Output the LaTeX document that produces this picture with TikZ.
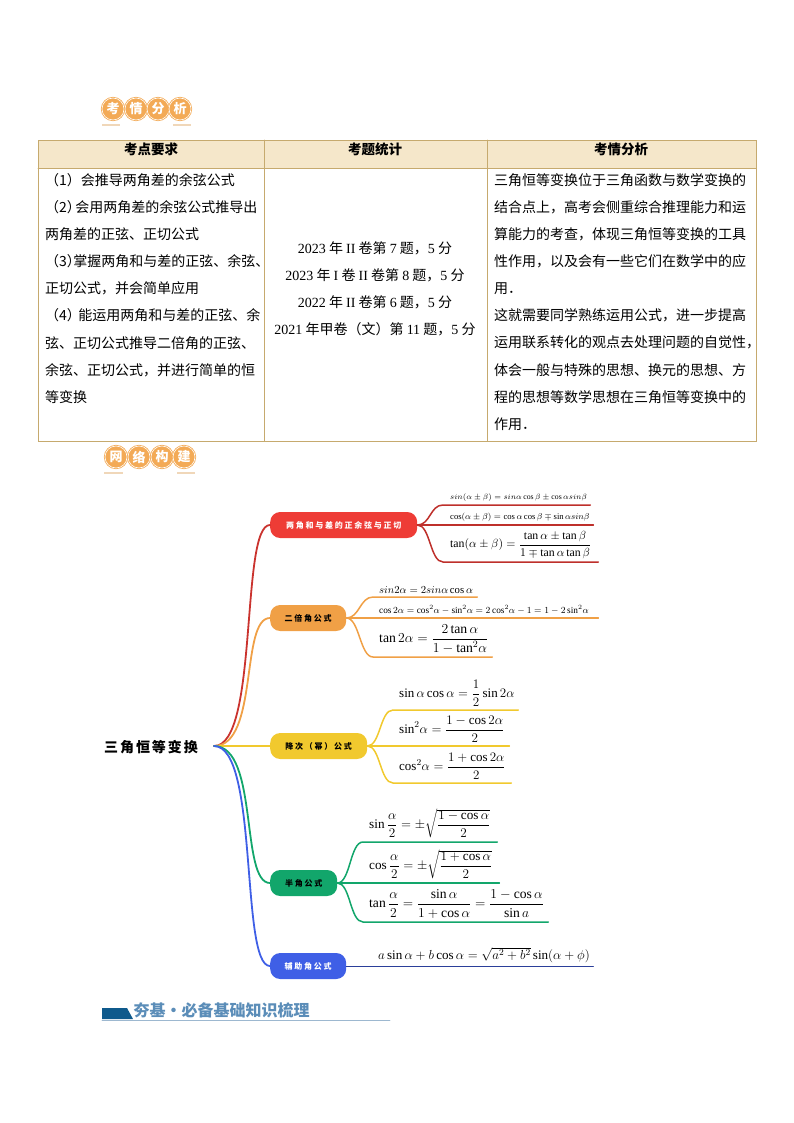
\documentclass[tikz,border=0pt]{standalone}
\usepackage{fix-cm}
\usepackage{amsmath}
\usepackage{fontspec}
\setmainfont{Liberation Serif}
\newfontfamily\cjk{Noto Sans CJK SC}
\newfontfamily\cjkwide[LetterSpace=22]{Noto Sans CJK SC}
\newfontfamily\cjkroot[LetterSpace=14]{Noto Sans CJK SC}
\definecolor{rulegold}{RGB}{198,170,110}
\definecolor{headfill}{RGB}{245,231,202}
\definecolor{badgefill}{RGB}{243,170,86}
\definecolor{tickfill}{RGB}{240,215,185}
\definecolor{redc}{RGB}{238,60,54}
\definecolor{orangec}{RGB}{240,160,70}
\definecolor{yellowc}{RGB}{241,201,46}
\definecolor{greenc}{RGB}{18,166,107}
\definecolor{bluec}{RGB}{63,95,230}
\definecolor{navyc}{RGB}{43,63,154}
\definecolor{titlec}{RGB}{91,141,184}
\definecolor{titledark}{RGB}{15,90,140}
\definecolor{titleline}{RGB}{157,184,208}
\usetikzlibrary{positioning,calc}

\begin{document}
\begin{tikzpicture}[x=1pt, y=-1pt, line cap=round]
\tikzstyle{headtext}=[font=\cjk\bfseries\fontsize{13.5}{16}\selectfont]
\tikzstyle{celltext}=[anchor=north west, inner sep=0pt, align=left, font=\cjk\fontsize{14}{27.15}\selectfont]
\tikzstyle{badge}=[circle, draw=badgefill, double=white, double distance=0.6pt, line width=0.8pt, fill=badgefill, text=white, minimum size=22pt, inner sep=0pt, font=\cjk\bfseries\fontsize{13}{15}\selectfont]
\tikzstyle{pill}=[rectangle, rounded corners=10pt, anchor=west, minimum height=26pt, inner sep=0pt, font=\cjkwide\bfseries\fontsize{8}{10}\selectfont]
\tikzstyle{leaf}=[anchor=south west, inner ysep=3.5pt, inner xsep=0pt, align=left]
\tikzstyle{twig}=[to path={.. controls +(13,0) and +(-13,0) .. (\tikztotarget)}]
\tikzstyle{limb}=[to path={.. controls +(45,0) and +(-30,0) .. (\tikztotarget)}]

\useasboundingbox (0,0) rectangle (794,1123);

% table
\fill[headfill] (38,140) rectangle (756,168);
\draw[rulegold, line width=0.9pt] (38,140) rectangle (756,441);
\draw[rulegold, line width=0.9pt] (38,168) -- (756,168);
\draw[rulegold, line width=0.9pt] (264,140) -- (264,441);
\draw[rulegold, line width=0.9pt] (487,140) -- (487,441);
\node[headtext] (headA) at (151,149) {考点要求};
\node[headtext] (headB) at (375,149) {考题统计};
\node[headtext] (headC) at (621,149) {考情分析};
\node[celltext] (cellA) at (45,173) {（1）会推导两角差的余弦公式\\（2）\hspace{-5.5pt}会用两角差的余弦公式推导出\\两角差的正弦、正切公式\\（3）\hspace{-7.5pt}掌握两角和与差的正弦、余弦、\\正切公式，并会简单应用\\（4）\hspace{-2.5pt}能运用两角和与差的正弦、余\\弦、正切公式推导二倍角的正弦、\\余弦、正切公式，并进行简单的恒\\等变换};
\node[celltext, anchor=center, align=center] (cellB) at (375,289) {{\rmfamily 2023} 年 {\rmfamily II} 卷第 {\rmfamily 7} 题，{\rmfamily 5} 分\\{\rmfamily 2023} 年 {\rmfamily I} 卷 {\rmfamily II} 卷第 {\rmfamily 8} 题，{\rmfamily 5} 分\\{\rmfamily 2022} 年 {\rmfamily II} 卷第 {\rmfamily 6} 题，{\rmfamily 5} 分\\{\rmfamily 2021} 年甲卷（文）第 {\rmfamily 11} 题，{\rmfamily 5} 分};
\node[celltext] (cellC) at (494,173) {三角恒等变换位于三角函数与数学变换的\\结合点上，高考会侧重综合推理能力和运\\算能力的考查，体现三角恒等变换的工具\\性作用，以及会有一些它们在数学中的应\\用．\\这就需要同学熟练运用公式，进一步提高\\运用联系转化的观点去处理问题的自觉性，\\体会一般与特殊的思想、换元的思想、方\\程的思想等数学思想在三角恒等变换中的\\作用．};

% badges
\draw[tickfill, line width=2.5pt, line cap=butt] (102,125) -- (120,125) (173,125) -- (191,125);
\draw[tickfill, line width=2pt, line cap=butt] (104,473) -- (123,473) (177,473) -- (195,473);
\node[badge] (b1) at (113,109) {考};
\node[badge] (b2) at (136,109) {情};
\node[badge] (b3) at (158,109) {分};
\node[badge] (b4) at (180,109) {析};
\node[badge] (b5) at (116,457) {网};
\node[badge] (b6) at (139,457) {络};
\node[badge] (b7) at (162,457) {构};
\node[badge] (b8) at (184,457) {建};

% mind map
\node[inner sep=0pt, font=\cjkroot\bfseries\fontsize{14}{16}\selectfont] (root) at (151,747) {三角恒等变换};
\coordinate (hub) at (214,746);
\node[pill, fill=redc, text=white, minimum width=147pt] (red) at (270,525) {两角和与差的正余弦与正切};
\node[pill, fill=orangec, minimum width=76pt] (orange) at (270,618) {二倍角公式};
\node[pill, fill=yellowc, minimum width=97pt] (yellow) at (270,746) {降次（幂）公式};
\node[pill, fill=greenc, minimum width=67pt] (green) at (270,883) {半角公式};
\node[pill, fill=bluec, text=white, minimum width=76pt] (blue) at (270,966) {辅助角公式};

\node[leaf, text width=147pt, font=\fontsize{7.7}{9}\selectfont] (r1) at (443,505) {\hspace{7pt}$sin(\alpha\pm\beta)=sin\alpha\cos\beta\pm\cos\alpha sin\beta$};
\node[leaf, text width=150pt, font=\fontsize{8.6}{10}\selectfont] (r2) at (443,525) {\hspace{7pt}$\cos(\alpha\pm\beta)=\cos\alpha\cos\beta\mp\sin\alpha sin\beta$};
\node[leaf, text width=155pt, font=\fontsize{11.8}{13}\selectfont] (r3) at (443,562) {\hspace{7pt}$\tan(\alpha\pm\beta)=\dfrac{\tan\alpha\pm\tan\beta}{1\mp\tan\alpha\tan\beta}$};
\node[leaf, text width=104pt, font=\fontsize{10.7}{12}\selectfont] (o1) at (373,597) {\hspace{6pt}$sin2\alpha=2sin\alpha\cos\alpha$};
\node[leaf, text width=225pt, font=\fontsize{9.3}{11}\selectfont] (o2) at (373,618) {\hspace{6pt}$\cos2\alpha=\cos^2\!\alpha-\sin^2\!\alpha=2\cos^2\!\alpha-1=1-2\sin^2\!\alpha$};
\node[leaf, text width=119pt, font=\fontsize{13.7}{15}\selectfont] (o3) at (373,657) {\hspace{6pt}$\tan2\alpha=\dfrac{2\tan\alpha}{1-\tan^2\!\alpha}$};
\node[leaf, text width=125pt, font=\fontsize{13}{15}\selectfont] (y1) at (393,710) {\hspace{6pt}$\sin\alpha\cos\alpha=\dfrac{1}{2}\sin2\alpha$};
\node[leaf, text width=116pt, font=\fontsize{13.1}{15}\selectfont] (y2) at (393,746) {\hspace{6pt}$\sin^2\!\alpha=\dfrac{1-\cos2\alpha}{2}$};
\node[leaf, text width=118pt, font=\fontsize{13}{15}\selectfont] (y3) at (393,783) {\hspace{6pt}$\cos^2\!\alpha=\dfrac{1+\cos2\alpha}{2}$};
\node[leaf, text width=134pt, font=\fontsize{13.2}{15}\selectfont] (g1) at (363,842) {\hspace{6pt}$\sin\dfrac{\alpha}{2}=\pm\sqrt{\dfrac{1-\cos\alpha}{2}}$};
\node[leaf, text width=136pt, font=\fontsize{13.2}{15}\selectfont] (g2) at (363,883) {\hspace{6pt}$\cos\dfrac{\alpha}{2}=\pm\sqrt{\dfrac{1+\cos\alpha}{2}}$};
\node[leaf, text width=185pt, font=\fontsize{13.6}{15}\selectfont] (g3) at (363,922) {\hspace{6pt}$\tan\dfrac{\alpha}{2}=\dfrac{\sin\alpha}{1+\cos\alpha}=\dfrac{1-\cos\alpha}{\sin a}$};
\node[leaf, text width=215pt, font=\fontsize{13.1}{15}\selectfont] (f1) at (378,966) {$a\sin\alpha+b\cos\alpha=\sqrt{a^2+b^2}\sin(\alpha+\phi)$};

\draw[redc!85!black, line width=1.8pt] (hub) to[limb] (red.west);
\draw[orangec, line width=1.8pt] (hub) to[limb] (orange.west);
\draw[yellowc, line width=1.8pt] (hub) -- (yellow.west);
\draw[greenc, line width=1.8pt] (hub) to[limb] (green.west);
\draw[bluec, line width=1.8pt] (hub) to[limb] (blue.west);

\draw[redc!80!black, line width=1.5pt] (red.east) to[twig] (r1.south west) -- (r1.south east);
\draw[redc!80!black, line width=1.5pt] (red.east) -- (r2.south east);
\draw[redc!80!black, line width=1.5pt] (red.east) to[twig] (r3.south west) -- (r3.south east);
\draw[orangec, line width=1.5pt] (orange.east) to[twig] (o1.south west) -- (o1.south east);
\draw[orangec, line width=1.5pt] (orange.east) -- (o2.south east);
\draw[orangec, line width=1.5pt] (orange.east) to[twig] (o3.south west) -- (o3.south east);
\draw[yellowc, line width=1.5pt] (yellow.east) to[twig] (y1.south west) -- (y1.south east);
\draw[yellowc, line width=1.5pt] (yellow.east) -- (y2.south east);
\draw[yellowc, line width=1.5pt] (yellow.east) to[twig] (y3.south west) -- (y3.south east);
\draw[greenc, line width=1.5pt] (green.east) to[twig] (g1.south west) -- (g1.south east);
\draw[greenc, line width=1.5pt] (green.east) -- (g2.south east);
\draw[greenc, line width=1.5pt] (green.east) to[twig] (g3.south west) -- (g3.south east);
\draw[navyc, line width=0.9pt] (blue.east) -- (f1.south east);

% bottom title
\fill[titledark] (102,1008) -- (127,1008) -- (133,1019) -- (102,1019) -- cycle;
\draw[titleline, line width=0.8pt] (102,1020) -- (390,1020);
\node[inner sep=0pt, text=titlec, font=\cjk\bfseries\fontsize{16}{20}\selectfont] (title) at (221.5,1010) {夯基·必备基础知识梳理};
\end{tikzpicture}
\end{document}
